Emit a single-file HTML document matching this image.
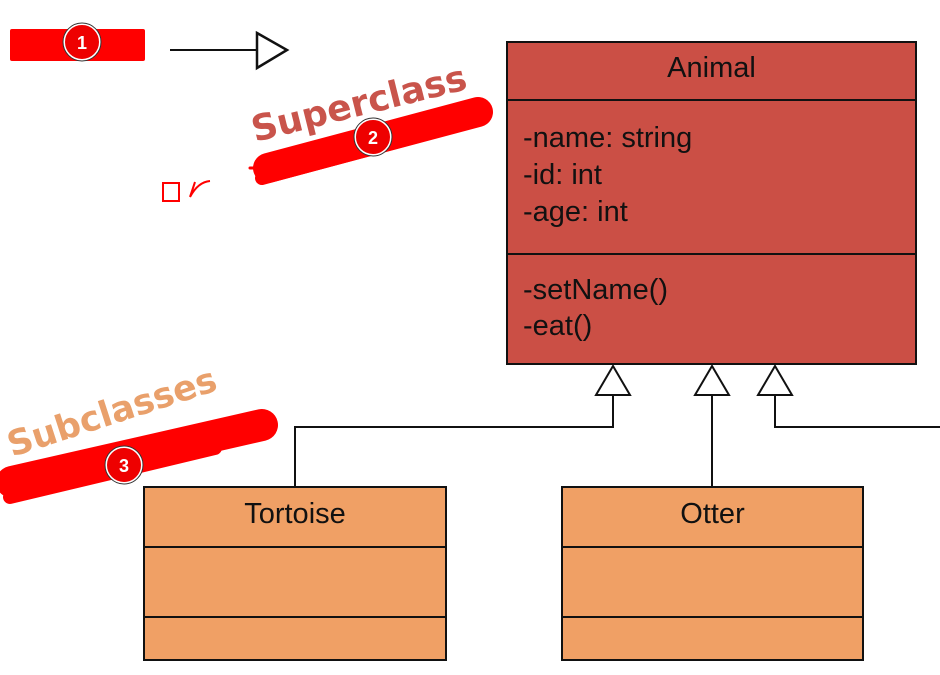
<!DOCTYPE html>
<html><head><style>
body{margin:0;width:940px;height:675px;background:#fff;overflow:hidden;position:relative;font-family:"Liberation Sans",sans-serif}
.t{position:absolute;color:#111;font-size:29px}
</style></head><body>
<svg width="940" height="675" style="position:absolute;left:0;top:0">
<rect x="10" y="29" width="135" height="32" rx="2" fill="#f00"/>
<circle cx="82" cy="42" r="18" fill="#e00" stroke="#fff" stroke-width="2"/>
<circle cx="82" cy="42" r="19" fill="none" stroke="#333" stroke-width="1"/>
<text x="82" y="49" font-size="18" font-weight="bold" fill="#fff" text-anchor="middle" font-family="Liberation Sans">1</text>
<line x1="170" y1="50" x2="257" y2="50" stroke="#111" stroke-width="2"/>
<polygon points="257,33 287,50 257,68" fill="#fff" stroke="#111" stroke-width="2.5"/>
<text x="255" y="142" font-size="36" font-weight="bold" fill="#c9544b" transform="rotate(-14 255 142)" font-family="DejaVu Sans">Superclass</text>
<g stroke="#f00" stroke-linecap="round" fill="none">
<line x1="268" y1="168" x2="478" y2="112" stroke-width="30"/>
<line x1="262" y1="178" x2="440" y2="130" stroke-width="14"/>
<line x1="250" y1="168" x2="275" y2="168" stroke-width="3"/>
</g>
<circle cx="373" cy="137" r="18" fill="#e00" stroke="#fff" stroke-width="2"/>
<circle cx="373" cy="137" r="19" fill="none" stroke="#333"/>
<text x="373" y="144" font-size="18" font-weight="bold" fill="#fff" text-anchor="middle" font-family="Liberation Sans">2</text>
<rect x="163" y="183" width="16" height="18" fill="none" stroke="#f00" stroke-width="2"/>
<path d="M190,197 L195,182 M190,197 Q198,182 210,181" stroke="#f00" stroke-width="2" fill="none"/>
<text x="12" y="457" font-size="35" font-weight="bold" fill="#e9a06b" transform="rotate(-18 12 457)" font-family="DejaVu Sans">Subclasses</text>
<g stroke="#f00" stroke-linecap="round" fill="none">
<line x1="12" y1="482" x2="262" y2="425" stroke-width="32"/>
<line x1="10" y1="497" x2="215" y2="448" stroke-width="14"/>
</g>
<circle cx="124" cy="465" r="18" fill="#e00" stroke="#fff" stroke-width="2"/>
<circle cx="124" cy="465" r="19" fill="none" stroke="#333"/>
<text x="124" y="472" font-size="18" font-weight="bold" fill="#fff" text-anchor="middle" font-family="Liberation Sans">3</text>
<rect x="507" y="42" width="409" height="322" fill="#cb4f45" stroke="#111" stroke-width="2"/>
<line x1="507" y1="100" x2="916" y2="100" stroke="#111" stroke-width="2"/>
<line x1="507" y1="254" x2="916" y2="254" stroke="#111" stroke-width="2"/>
<g fill="none" stroke="#111" stroke-width="2">
<path d="M613,395 V427 H295 V487"/>
<path d="M712,395 V487"/>
<path d="M775,395 V427 H940"/>
</g>
<g fill="#fff" stroke="#111" stroke-width="2">
<polygon points="613,366 596,395 630,395"/>
<polygon points="712,366 695,395 729,395"/>
<polygon points="775,366 758,395 792,395"/>
</g>
<rect x="144" y="487" width="302" height="173" fill="#f0a065" stroke="#111" stroke-width="2"/>
<line x1="144" y1="547" x2="446" y2="547" stroke="#111" stroke-width="2"/>
<line x1="144" y1="617" x2="446" y2="617" stroke="#111" stroke-width="2"/>
<rect x="562" y="487" width="301" height="173" fill="#f0a065" stroke="#111" stroke-width="2"/>
<line x1="562" y1="547" x2="863" y2="547" stroke="#111" stroke-width="2"/>
<line x1="562" y1="617" x2="863" y2="617" stroke="#111" stroke-width="2"/>
</svg>
<div class="t" style="left:507px;width:409px;text-align:center;top:52px">Animal</div>
<div class="t" style="left:523px;top:120px;line-height:37px">-name: string<br>-id: int<br>-age: int</div>
<div class="t" style="left:523px;top:272px;line-height:36px">-setName()<br>-eat()</div>
<div class="t" style="left:144px;width:302px;text-align:center;top:498px">Tortoise</div>
<div class="t" style="left:562px;width:301px;text-align:center;top:498px">Otter</div>
</body></html>
